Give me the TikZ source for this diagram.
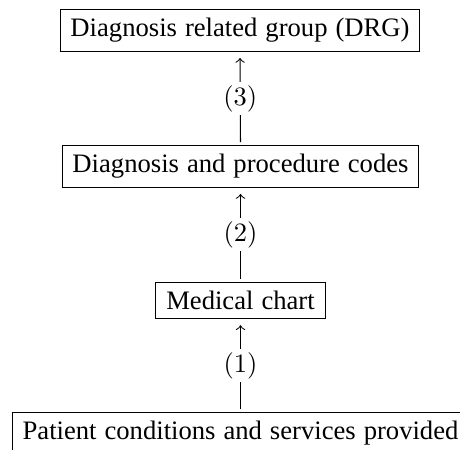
\documentclass[tikz,border=0pt]{standalone}
\usepackage{fontspec}
\setmainfont{Liberation Serif}[WordSpace=1.2]
\begin{document}
\begin{tikzpicture}[x=0.3774pt, y=-0.3774pt,
  box/.style={draw, line width=0.4pt, inner xsep=3.9pt, inner ysep=3.3pt, font=\fontsize{10.05}{12}\selectfont},
  lab/.style={fill=white, inner sep=1.2pt, font=\fontsize{10}{12}\selectfont},
  conn/.style={->, line width=0.4pt, shorten >=2.3pt, shorten <=1.1pt}]
\useasboundingbox (0,0) rectangle (460,450);
\node[box] (A) at (240,30.5) {Diagnosis related group (DRG)};
\node[box] (B) at (240.5,166.5) {Diagnosis and procedure codes};
\node[box] (C) at (240.5,300.5) {Medical chart};
\node[box] (D) at (240.5,433.5) {Patient conditions and services provided};
\draw[conn] (B.north) -- node[lab] (l3) {$(3)$} (A.south);
\draw[conn] (C.north) -- node[lab] (l2) {$(2)$} (B.south);
\draw[conn] (D.north) -- node[lab] (l1) {$(1)$} (C.south);
\end{tikzpicture}
\end{document}
